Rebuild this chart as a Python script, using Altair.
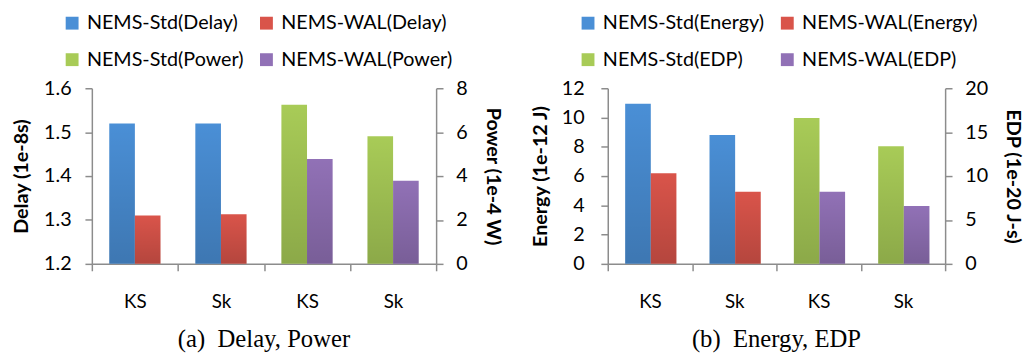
import altair as alt
import pandas as pd

# ---- data ----
categories = ["KS", "Sk", "KS", "Sk"]
slots = ["KS-1", "Sk-1", "KS-2", "Sk-2"]

# panel (a)
delay_std = [1.52, 1.52]
delay_wal = [1.31, 1.313]
power_std = [7.25, 5.81]
power_wal = [4.78, 3.79]

# panel (b)
energy_std = [10.95, 8.8]
energy_wal = [6.2, 4.92]
edp_std = [16.6, 13.4]
edp_wal = [8.2, 6.6]

color_std_left = "#4A8FD6"
color_wal_left = "#D9544A"
color_std_right = "#A8CB57"
color_wal_right = "#9171B6"

SANS = "Lato"
SERIF = "Liberation Serif"
AXIS_GRAY = "#8c8c8c"


def rows(slot_ids, std_vals, wal_vals, std_name, wal_name):
    out = []
    for s, v in zip(slot_ids, std_vals):
        out.append({"slot": s, "kind": "Std", "series": std_name, "value": v})
    for s, v in zip(slot_ids, wal_vals):
        out.append({"slot": s, "kind": "WAL", "series": wal_name, "value": v})
    return pd.DataFrame(out)


shade = alt.Gradient(
    gradient="linear",
    stops=[
        alt.GradientStop(color="rgba(0,0,0,0)", offset=0),
        alt.GradientStop(color="rgba(0,0,0,0.17)", offset=1),
    ],
    x1=0, x2=0, y1=0, y2=1,
)


def panel(df_left, df_right, left_title, right_title, left_dom, right_dom,
          left_ticks, right_ticks, left_fmt, names, caption, width,
          legend_x, left_label_pad, left_title_pad, col_pad):
    std_l, wal_l, std_r, wal_r = names
    # legend fills column by column: order so rows read Std | WAL
    legend_domain = [std_l, std_r, wal_l, wal_r]
    legend_range = [color_std_left, color_std_right, color_wal_left, color_wal_right]
    x = alt.X(
        "slot:N",
        sort=slots,
        scale=alt.Scale(domain=slots, paddingInner=0, paddingOuter=0),
        axis=alt.Axis(
            title=None,
            labelExpr="split(datum.label, '-')[0]",
            labelAngle=0,
            tickBand="extent",
            tickSize=7,
            tickColor=AXIS_GRAY,
            tickWidth=1.5,
            domainColor=AXIS_GRAY,
            domainWidth=1.5,
            labelFont=SANS,
            labelFontSize=19,
            labelColor="#000",
            labelPadding=22,
        ),
    )
    xo = alt.XOffset(
        "kind:N",
        scale=alt.Scale(domain=["Std", "WAL"], paddingInner=0, paddingOuter=0.68),
    )
    color = alt.Color(
        "series:N",
        scale=alt.Scale(domain=legend_domain, range=legend_range),
        legend=alt.Legend(
            title=None,
            orient="none",
            legendX=legend_x,
            legendY=-76,
            columns=2,
            columnPadding=col_pad,
            rowPadding=17,
            symbolType="square",
            symbolSize=170,
            symbolStrokeWidth=0,
            labelFont=SANS,
            labelFontSize=20,
            labelColor="#000",
            labelOffset=5,
            labelLimit=400,
            padding=0,
        ),
    )

    def yaxis(title, orient, ticks, fmt, label_pad, title_pad):
        return alt.Axis(
            title=title,
            orient=orient,
            values=ticks,
            format=fmt,
            grid=False,
            tickSize=7,
            tickColor=AXIS_GRAY,
            tickWidth=1.5,
            domainColor=AXIS_GRAY,
            domainWidth=1.5,
            labelFont=SANS,
            labelFontSize=20,
            labelColor="#000",
            labelPadding=label_pad,
            titleFont=SANS,
            titleFontSize=20,
            titleFontWeight="bold",
            titleColor="#000",
            titlePadding=title_pad,
        )

    yl = alt.Y(
        "value:Q",
        scale=alt.Scale(domain=left_dom, zero=False, nice=False),
        axis=yaxis(left_title, "left", left_ticks, left_fmt, left_label_pad, left_title_pad),
    )
    yr = alt.Y(
        "value:Q",
        scale=alt.Scale(domain=right_dom, zero=False, nice=False),
        axis=yaxis(right_title, "right", right_ticks, "d", 13, 15),
    )
    y2l = alt.Y2(datum=left_dom[0])
    y2r = alt.Y2(datum=right_dom[0])

    bl = alt.Chart(df_left).encode(x=x, xOffset=xo, y=yl, y2=y2l)
    br = alt.Chart(df_right).encode(x=x, xOffset=xo, y=yr, y2=y2r)
    left = alt.layer(bl.mark_bar().encode(color=color), bl.mark_bar(fill=shade))
    right = alt.layer(br.mark_bar().encode(color=color), br.mark_bar(fill=shade))
    return (
        alt.layer(left, right)
        .resolve_scale(y="independent")
        .properties(
            width=width,
            height=178,
            title=alt.TitleParams(
                caption,
                orient="bottom",
                font=SERIF,
                fontSize=25,
                fontWeight="normal",
                color="#000",
                anchor="middle",
                offset=16,
            ),
        )
    )


names_a = ["NEMS-Std(Delay)", "NEMS-WAL(Delay)", "NEMS-Std(Power)", "NEMS-WAL(Power)"]
names_b = ["NEMS-Std(Energy)", "NEMS-WAL(Energy)", "NEMS-Std(EDP)", "NEMS-WAL(EDP)"]

df_a_left = rows(slots[:2], delay_std, delay_wal, names_a[0], names_a[1])
df_a_right = rows(slots[2:], power_std, power_wal, names_a[2], names_a[3])
df_b_left = rows(slots[:2], energy_std, energy_wal, names_b[0], names_b[1])
df_b_right = rows(slots[2:], edp_std, edp_wal, names_b[2], names_b[3])

pa = panel(
    df_a_left, df_a_right, "Delay (1e-8s)", "Power (1e-4 W)",
    [1.2, 1.6], [0, 8], [1.2, 1.3, 1.4, 1.5, 1.6], [0, 2, 4, 6, 8], ".1f",
    names_a, "(a)\u00a0 Delay, Power", 349, -30, 14, 12, 13,
)
pb = panel(
    df_b_left, df_b_right, "Energy (1e-12 J)", "EDP (1e-20 J-s)",
    [0, 12], [0, 20], [0, 2, 4, 6, 8, 10, 12], [0, 5, 10, 15, 20], "d",
    names_b, "(b)\u00a0 Energy, EDP", 342, -30, 17, 11, 13,
)

chart = (
    alt.hconcat(pa, pb, spacing=28)
    .resolve_scale(color="independent")
    .properties(padding={"left": 4, "top": 3, "right": 4, "bottom": 0})
    .configure_view(stroke=None)
)

chart.save("out.html", embed_options={"renderer": "svg", "actions": False})
